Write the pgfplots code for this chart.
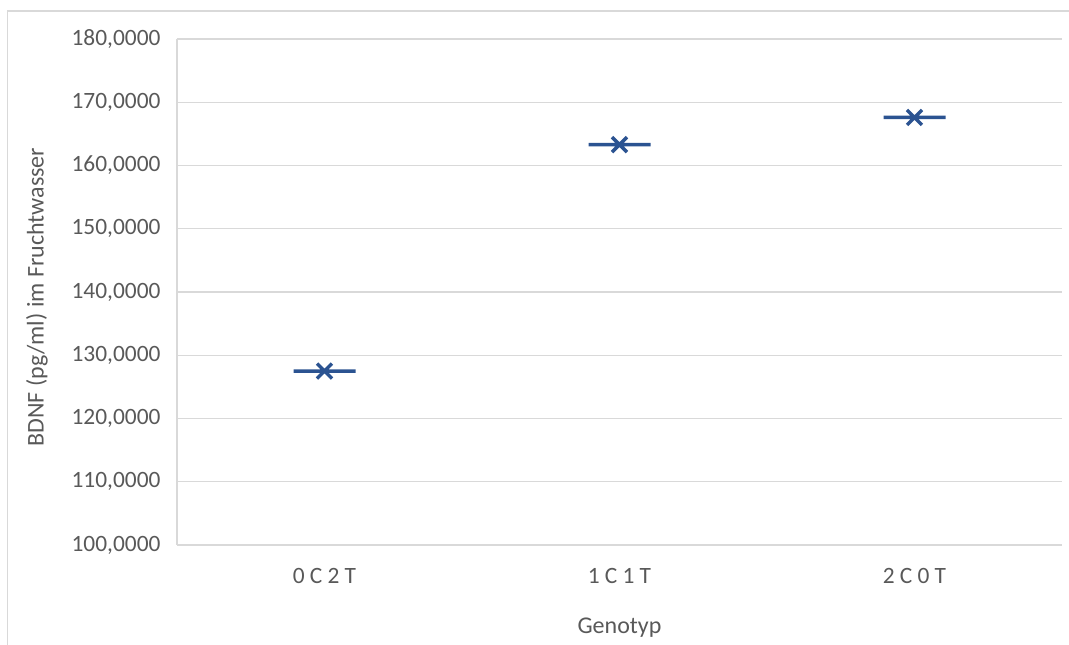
\documentclass[border=0pt]{standalone}
\usepackage{fontspec}
\setmainfont{Carlito}
\usepackage{pgfplots}
\usepackage{pgfplotstable}
\pgfplotsset{compat=1.18}

\definecolor{gridgray}{HTML}{D9D9D9}
\definecolor{textgray}{HTML}{595959}
\definecolor{markblue}{HTML}{2B5391}

% mean marker: short horizontal bar with a cross on it
\pgfdeclareplotmark{meanbar}{%
  \pgfpathmoveto{\pgfqpoint{-31pt}{0pt}}\pgfpathlineto{\pgfqpoint{31pt}{0pt}}%
  \pgfpathmoveto{\pgfqpoint{-7.5pt}{-7.5pt}}\pgfpathlineto{\pgfqpoint{7.5pt}{7.5pt}}%
  \pgfpathmoveto{\pgfqpoint{-7.5pt}{7.5pt}}\pgfpathlineto{\pgfqpoint{7.5pt}{-7.5pt}}%
  \pgfusepathqstroke}

\pgfplotstableread{
x y
0 127.5
1 163.3
2 167.6
}\bdnf

\begin{document}
\begin{tikzpicture}[x=1pt,y=1pt]
\useasboundingbox (0,0) rectangle (1069,645);
\draw[gridgray, line width=1.5pt] (7.5,-5) -- (7.5,634) -- (1075,634);
\begin{axis}[
  at={(177pt,100pt)}, anchor=south west,
  scale only axis, width=885pt, height=506pt,
  xmin=-0.5, xmax=2.5, ymin=100, ymax=180,
  ytick distance=10,
  xtick={0,1,2},
  xticklabels={{0\hspace{0.22em}C\hspace{0.22em}2\hspace{0.22em}T},
               {1\hspace{0.22em}C\hspace{0.22em}1\hspace{0.22em}T},
               {2\hspace{0.22em}C\hspace{0.22em}0\hspace{0.22em}T}},
  ymajorgrids,
  grid style={gridgray, line width=1.3pt},
  axis x line*=bottom, axis y line*=left,
  axis line style={gridgray, line width=1.3pt, -},
  major tick length=0pt,
  tick label style={font=\fontsize{23.4}{28}\selectfont, text=textgray},
  /pgf/number format/assume math mode=true,
  yticklabel style={/pgf/number format/.cd, fixed, fixed zerofill, precision=4, use comma, /tikz/.cd, xshift=-13pt},
  xticklabel style={anchor=base, yshift=-39pt},
  xlabel={Genotyp},
  xlabel style={at={(axis description cs:0.5,-0.174)}, anchor=base, font=\fontsize{24}{28}\selectfont, text=textgray},
  ylabel={BDNF (pg/ml) im Fruchtwasser},
  ylabel style={at={(axis description cs:-0.1582,0.49)}, anchor=center, font=\fontsize{24}{28}\selectfont, text=textgray},
  clip=false,
]
\addplot[only marks, mark=meanbar, color=markblue, mark options={line width=3.4pt, solid}] table[x=x, y=y] {\bdnf};
\end{axis}
\end{tikzpicture}
\end{document}
